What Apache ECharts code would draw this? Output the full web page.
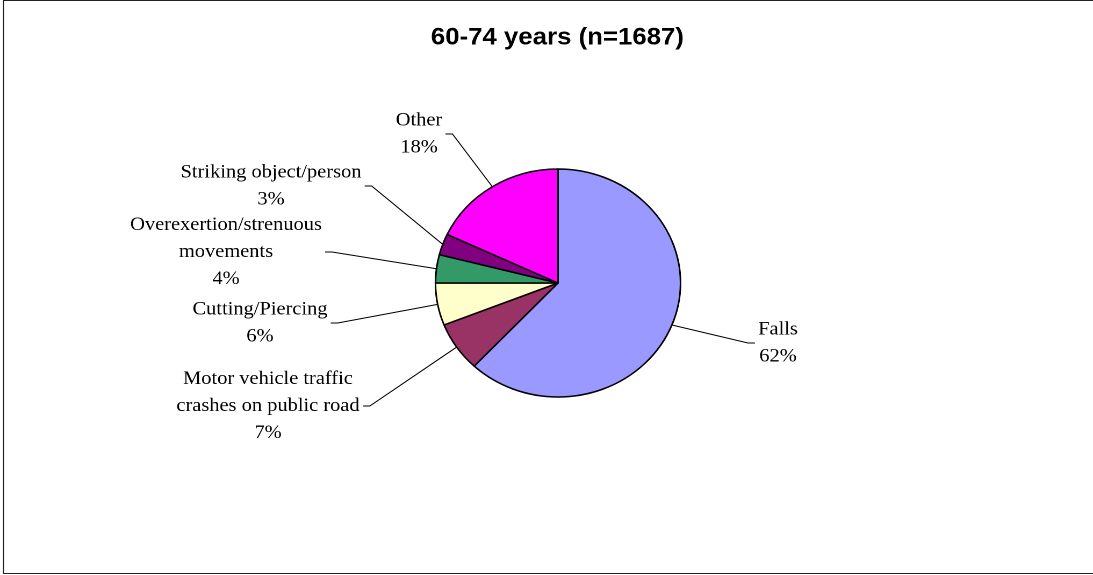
<!DOCTYPE html>
<html>
<head>
<meta charset="utf-8">
<title>60-74 years (n=1687)</title>
<script src="https://cdn.jsdelivr.net/npm/echarts@6/dist/echarts.min.js"></script>
<style>
  html, body { margin: 0; padding: 0; background: #fff; overflow: hidden; }
  /* The chart is drawn slightly narrower and widened to give the pie its oval shape */
  #chart { width: 1017px; height: 575px; transform: scaleX(1.0747); transform-origin: 0 0; }
</style>
</head>
<body>
<div id="chart"></div>
<script>
// Injury causes, ages 60-74 (percent of 1687 cases)
const categories = [
  'Falls',
  'Motor vehicle traffic\ncrashes on public road',
  'Cutting/Piercing',
  'Overexertion/strenuous\nmovements',
  'Striking object/person',
  'Other'
];
const percents = [62, 7, 6, 4, 3, 18];
const sliceColors = ['#9999FF', '#993366', '#FFFFCC', '#339966', '#800080', '#FF00FF'];

// Horizontal widening factor applied by CSS; layout below is in page pixels
const SX = 1.0747;
const CX = 558 / SX, CY = 283, R = 114;
const W = 1093 / SX;
const labelCentres = [[778, 343], [268, 406], [260, 323], [226, 252], [271, 186], [419, 134]]
  .map(([x, y]) => [x / SX, y]);

const total = percents.reduce((a, b) => a + b, 0);
const startAngles = [];
percents.reduce((acc, v) => { startAngles.push(acc); return acc + v; }, 0);

function edgeMidpoint(i) {
  const midFrac = (startAngles[i] + percents[i] / 2) / total;
  const theta = (90 - midFrac * 360) * Math.PI / 180;
  return [CX + R * Math.cos(theta), CY - R * Math.sin(theta)];
}

const frameStyle = { stroke: '#222', lineWidth: 1 };
const chart = echarts.init(document.getElementById('chart'), null, { devicePixelRatio: 2 });
chart.setOption({
  animation: false,
  backgroundColor: '#fff',
  title: {
    text: '60-74 years (n=1687)',
    left: 552 / SX,
    top: 21,
    textAlign: 'center',
    textStyle: { fontFamily: 'Liberation Sans', fontSize: 24, fontWeight: 'bold', color: '#000' }
  },
  graphic: [
    { type: 'polyline', shape: { points: [[W, 0.5], [3.2, 0.5], [3.2, 573.5], [W, 573.5]] },
      style: Object.assign({ fill: null }, frameStyle), silent: true }
  ],
  series: [{
    type: 'pie',
    center: [CX, CY],
    radius: R,
    startAngle: 90,
    clockwise: true,
    data: categories.map((name, i) => ({
      name: name,
      value: percents[i],
      itemStyle: { color: sliceColors[i] }
    })),
    itemStyle: { borderColor: '#000', borderWidth: 1.5 },
    emphasis: { disabled: true },
    label: {
      show: true,
      formatter: p => p.name + '\n' + p.value + '%',
      fontFamily: 'Liberation Serif',
      fontSize: 19,
      lineHeight: 27,
      color: '#000',
      align: 'center'
    },
    labelLine: { show: true, lineStyle: { color: '#000', width: 1 } },
    labelLayout: function (params) {
      const i = params.dataIndex;
      const [lx, ly] = labelCentres[i];
      const halfW = params.labelRect.width / 2;
      const onLeft = lx < CX;
      const ax = onLeft ? lx + halfW + 3 : lx - halfW - 3;
      const elbow = [onLeft ? ax + 6.5 : ax - 6.5, ly];
      return {
        x: lx,
        y: ly,
        align: 'center',
        verticalAlign: 'middle',
        labelLinePoints: [edgeMidpoint(i), elbow, [ax, ly]]
      };
    }
  }]
});
</script>
</body>
</html>
